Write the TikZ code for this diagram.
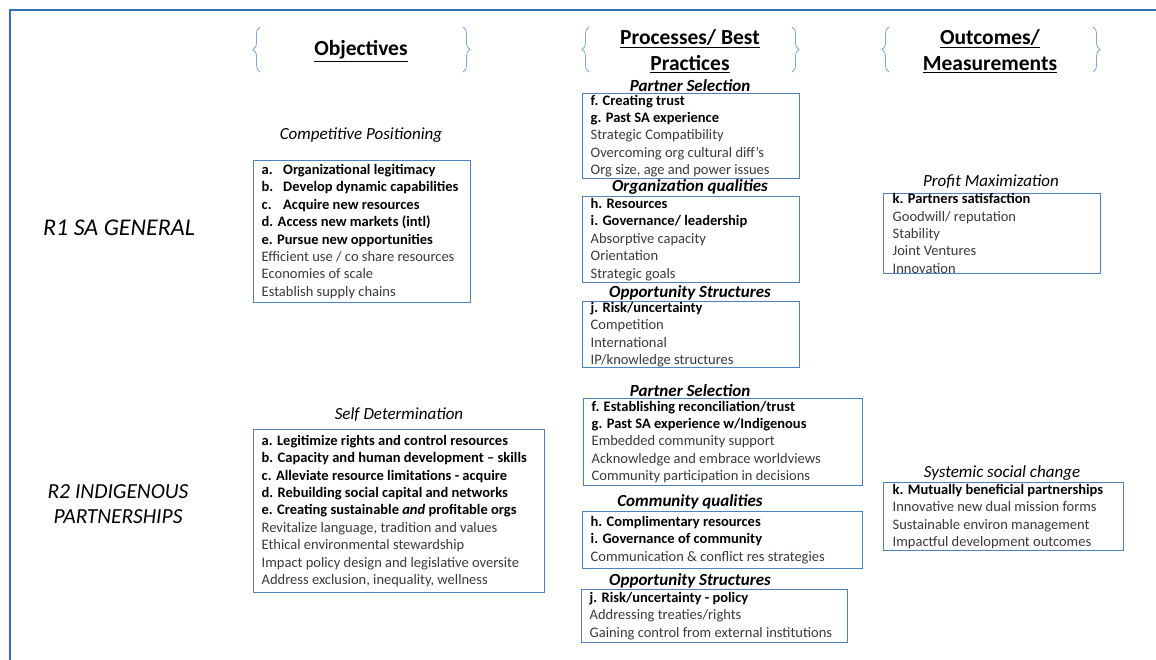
\documentclass[tikz,border=0pt]{standalone}
\usepackage{fontspec}
\setmainfont{Carlito}
\usetikzlibrary{decorations.pathreplacing}
\definecolor{frameblue}{HTML}{2F6FC0}
\definecolor{boxblue}{HTML}{4F81BD}
\definecolor{braceblue}{HTML}{7FA7DA}
\definecolor{bodygray}{HTML}{3A3A3A}
\newcommand{\bline}[1]{{\bfseries\color{black}#1}}
\newcommand{\tabl}[1]{\makebox[21.5pt][l]{#1}}
\begin{document}
\begin{tikzpicture}[x=1pt,y=-1pt,
  box/.style={draw=boxblue, line width=1.1pt, anchor=north west, inner sep=0pt},
  txt/.style={anchor=west, align=left, inner sep=0pt, text=bodygray, font=\fontsize{14.5}{17.4}\selectfont},
  header/.style={align=center, inner sep=0pt, font=\fontsize{21.5}{25.5}\selectfont\bfseries},
  subt/.style={inner sep=0pt, font=\fontsize{17}{19}\selectfont\itshape},
  subtb/.style={inner sep=0pt, font=\fontsize{17}{19}\selectfont\bfseries\itshape},
  rlabel/.style={align=center, inner sep=0pt, font=\fontsize{21.5}{25}\selectfont\itshape},
  bracestyle/.style={draw=braceblue, line width=0.8pt, decorate, decoration={brace, amplitude=7pt}},
  framestyle/.style={draw=frameblue, line width=1.6pt}
]
\useasboundingbox (0,0) rectangle (1156,660);
\fill[white] (0,0) rectangle (1156,660);

% frame
\coordinate (fTR) at (1156,10);
\coordinate (fTL) at (10,10);
\coordinate (fBL) at (10,660);
\draw[framestyle] (fTR) -- (fTL) -- (fBL);

% braces
\coordinate (b1a) at (260,72); \coordinate (b1b) at (260,27);
\coordinate (b2a) at (463,27); \coordinate (b2b) at (463,72);
\coordinate (b3a) at (589,72); \coordinate (b3b) at (589,27);
\coordinate (b4a) at (792,27); \coordinate (b4b) at (792,72);
\coordinate (b5a) at (889,72); \coordinate (b5b) at (889,27);
\coordinate (b6a) at (1093,27); \coordinate (b6b) at (1093,72);
\draw[bracestyle] (b1a) -- (b1b);
\draw[bracestyle] (b2a) -- (b2b);
\draw[bracestyle] (b3a) -- (b3b);
\draw[bracestyle] (b4a) -- (b4b);
\draw[bracestyle] (b5a) -- (b5b);
\draw[bracestyle] (b6a) -- (b6b);

% headers
\node[header] (hObj) at (361,51) {\underline{Objectives}};
\node[header] (hProc) at (690,51) {\underline{Processes/ Best}\\\underline{Practices}};
\node[header] (hOut) at (990,51) {\underline{Outcomes/}\\\underline{Measurements}};

% row labels
\node[rlabel, font=\fontsize{24}{26}\selectfont\itshape] (r1) at (119,228) {R1 SA GENERAL};
\node[rlabel] (r2) at (118,504) {R2 INDIGENOUS\\PARTNERSHIPS};

% subtitles
\node[subt] (sCP) at (361,135) {Competitive Positioning};
\node[subt] (sSD) at (399,415) {Self Determination};
\node[subt] (sPM) at (991,182) {Profit Maximization};
\node[subt] (sSS) at (1002,473) {Systemic social change};
\node[subtb] (sPS1) at (690,85.5) {Partner Selection};
\node[subtb] (sOQ) at (690,186.5) {Organization qualities};
\node[subtb] (sOS1) at (690,292.5) {Opportunity Structures};
\node[subtb] (sPS2) at (690,390.5) {Partner Selection};
\node[subtb] (sCQ) at (690,502) {Community qualities};
\node[subtb] (sOS2) at (690,580.5) {Opportunity Structures};

% boxes
\node[box, minimum width=217pt, minimum height=142pt] (A) at (253,160) {};
\node[txt] (At) at ([xshift=8.5pt]A.west) {%
\bline{\tabl{a.}Organizational legitimacy}\\
\bline{\tabl{b.}Develop dynamic capabilities}\\
\bline{\tabl{c.}Acquire new resources}\\
\bline{d. Access new markets (intl)}\\
\bline{e. Pursue new opportunities}\\
Efficient use / co share resources\\
Economies of scale\\
Establish supply chains};

\node[box, minimum width=291pt, minimum height=163pt] (B) at (253,429) {};
\node[txt] (Bt) at ([xshift=8.5pt]B.west) {%
\bline{a. Legitimize rights and control resources}\\
\bline{b. Capacity and human development – skills}\\
\bline{c. Alleviate resource limitations - acquire}\\
\bline{d. Rebuilding social capital and networks}\\
\bline{e. Creating sustainable \textit{and} profitable orgs}\\
Revitalize language, tradition and values\\
Ethical environmental stewardship\\
Impact policy design and legislative oversite\\
Address exclusion, inequality, wellness};

\node[box, minimum width=217pt, minimum height=85pt] (C) at (582,93) {};
\node[txt] (Ct) at ([xshift=8.5pt]C.west) {%
\bline{f. Creating trust}\\
\bline{g. Past SA experience}\\
Strategic Compatibility\\
Overcoming org cultural diff’s\\
Org size, age and power issues};

\node[box, minimum width=217pt, minimum height=86pt] (D) at (582,196) {};
\node[txt] (Dt) at ([xshift=8.5pt]D.west) {%
\bline{h. Resources}\\
\bline{i. Governance/ leadership}\\
Absorptive capacity\\
Orientation\\
Strategic goals};

\node[box, minimum width=217pt, minimum height=66pt] (E) at (582,301) {};
\node[txt] (Et) at ([xshift=8.5pt]E.west) {%
\bline{j. Risk/uncertainty}\\
Competition\\
International\\
IP/knowledge structures};

\node[box, minimum width=279pt, minimum height=87pt] (F) at (583,398) {};
\node[txt] (Ft) at ([xshift=8.5pt]F.west) {%
\bline{f. Establishing reconciliation/trust}\\
\bline{g. Past SA experience w/Indigenous}\\
Embedded community support\\
Acknowledge and embrace worldviews\\
Community participation in decisions};

\node[box, minimum width=280pt, minimum height=57pt] (G) at (582,511) {};
\node[txt] (Gt) at ([xshift=8.5pt]G.west) {%
\bline{h. Complimentary resources}\\
\bline{i. Governance of community}\\
Communication \& conflict res strategies};

\node[box, minimum width=266pt, minimum height=53pt] (H) at (581,589) {};
\node[txt] (Ht) at ([xshift=8.5pt]H.west) {%
\bline{j. Risk/uncertainty - policy}\\
Addressing treaties/rights\\
Gaining control from external institutions};

\node[box, minimum width=217pt, minimum height=80pt] (I) at (883,193) {};
\node[txt] (It) at ([xshift=9.5pt]I.west) {%
\bline{k. Partners satisfaction}\\
Goodwill/ reputation\\
Stability\\
Joint Ventures\\
Innovation};

\node[box, minimum width=240pt, minimum height=68pt] (J) at (883,482) {};
\node[txt] (Jt) at ([xshift=9.5pt]J.west) {%
\bline{k. Mutually beneficial partnerships}\\
Innovative new dual mission forms\\
Sustainable environ management\\
Impactful development outcomes};
\end{tikzpicture}
\end{document}
